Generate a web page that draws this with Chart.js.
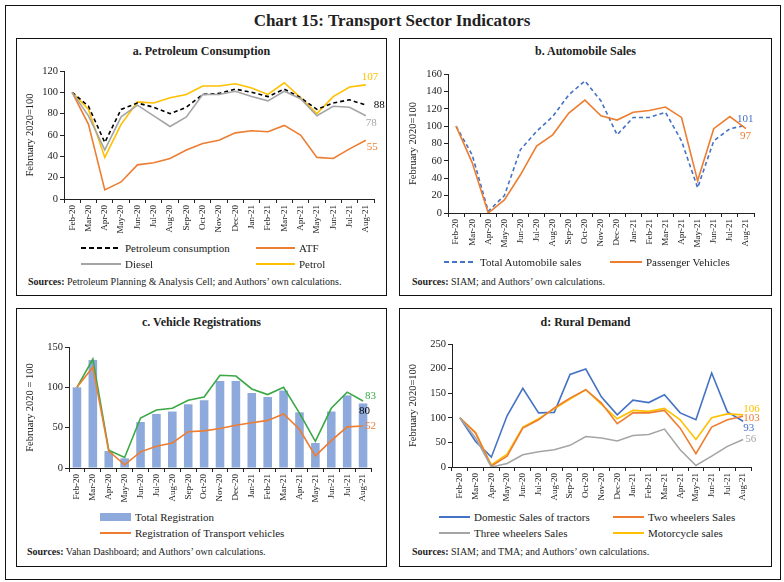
<!DOCTYPE html>
<html>
<head>
<meta charset="utf-8">
<script src="https://cdn.jsdelivr.net/npm/chart.js@4.4.0/dist/chart.umd.min.js"></script>
<style>
  body { margin: 0; width: 784px; height: 582px; background: #fff; font-family: 'Liberation Serif', serif; color: #222; position: relative; overflow: hidden; }
  .box { position: absolute; border: 1.5px solid #111; box-sizing: border-box; }
  .abs { position: absolute; white-space: nowrap; }
  .main-title { left: 0; width: 784px; top: 11px; text-align: center; font-size: 17px; font-weight: bold; }
  .ptitle { font-size: 12px; font-weight: bold; text-align: center; }
  .src { font-size: 10px; }
  .leg { font-size: 11px; display: flex; align-items: center; height: 14px; }
  .leg .mk { display: inline-block; margin-right: 4px; }
  canvas { position: absolute; }
</style>
</head>
<body>
<div class="box" style="left:5px;top:5px;width:776px;height:575px;"></div>
<div class="abs main-title">Chart 15: Transport Sector Indicators</div>

<div class="box" style="left:16px;top:38px;width:371px;height:258px;"></div>
<div class="box" style="left:399px;top:38px;width:373px;height:258px;"></div>
<div class="box" style="left:16px;top:308px;width:371px;height:259px;"></div>
<div class="box" style="left:399px;top:308px;width:373px;height:259px;"></div>

<div class="abs ptitle" style="left:16px;width:371px;top:44px;">a. Petroleum Consumption</div>
<div class="abs ptitle" style="left:399px;width:373px;top:44px;">b. Automobile Sales</div>
<div class="abs ptitle" style="left:16px;width:371px;top:315px;">c. Vehicle Registrations</div>
<div class="abs ptitle" style="left:399px;width:373px;top:315px;">d: Rural Demand</div>

<canvas id="chartA" width="366" height="177" style="left:20px;top:58px;width:366px;height:177px;"></canvas>
<canvas id="chartB" width="367" height="191" style="left:403px;top:58px;width:367px;height:191px;"></canvas>
<canvas id="chartC" width="365" height="170" style="left:20px;top:334px;width:365px;height:170px;"></canvas>
<canvas id="chartD" width="367" height="171" style="left:403px;top:332px;width:367px;height:171px;"></canvas>

<div class="abs src" style="left:28px;top:276px;"><b>Sources:</b> Petroleum Planning &amp; Analysis Cell; and Authors’ own calculations.</div>
<div class="abs src" style="left:412px;top:276px;"><b>Sources:</b> SIAM; and Authors’ own calculations.</div>
<div class="abs src" style="left:27px;top:546px;"><b>Sources:</b> Vahan Dashboard; and Authors’ own calculations.</div>
<div class="abs src" style="left:412px;top:546px;"><b>Sources:</b> SIAM; and TMA; and Authors’ own calculations.</div>

<div id="legends"></div>

<script>
const months = ['Feb-20','Mar-20','Apr-20','May-20','Jun-20','Jul-20','Aug-20','Sep-20','Oct-20','Nov-20',
  'Dec-20','Jan-21','Feb-21','Mar-21','Apr-21','May-21','Jun-21','Jul-21','Aug-21'];

// a. Petroleum consumption
const petroleumConsumption = [100, 87, 53, 84, 90, 86, 80, 86, 98, 99, 103, 100, 96, 103, 95, 84, 90, 93, 88];
const atf = [100, 70, 8.5, 16, 32, 34, 38, 46, 52, 55, 62, 64, 63, 69, 60, 39, 38, 47, 55];
const diesel = [100, 78, 46, 77, 88, 78, 68, 77, 98, 98, 101, 96, 92, 101, 94, 78, 87, 86, 78];
const petrol = [100, 84, 39, 70, 91, 90, 95, 98, 106, 106, 108, 104, 98, 109, 95, 80, 96, 105, 107];

// b. Automobile sales
const totalAutoSales = [100, 67, 2, 20, 73, 94, 111, 136, 152, 129, 90, 110, 110, 116, 83, 29, 83, 97, 101];
const passengerVehicles = [100, 58, 0, 15, 44, 77, 90, 115, 130, 112, 107, 116, 118, 122, 110, 37, 97, 111, 97];

// c. Vehicle registrations
const totalRegistration = [100, 134, 21, 12, 57, 67, 70, 79, 84, 108, 108, 93, 88, 96, 69, 31, 70, 90, 80];
const nonTransportRegistration = [100, 135, 22, 13, 62, 72, 74, 84, 88, 115, 114, 98, 91, 100, 68, 33, 74, 94, 83];
const transportRegistration = [100, 125, 21, 4, 20, 27, 31, 45, 46, 49, 53, 56, 59, 67, 48, 15, 34, 51, 52];

// d. Rural demand
const tractors = [100, 52, 20, 104, 160, 110, 111, 188, 199, 142, 106, 136, 131, 147, 110, 96, 191, 112, 93];
const twoWheelers = [100, 69, 2, 22, 79, 96, 120, 140, 157, 130, 88, 110, 110, 115, 79, 27, 81, 96, 103];
const threeWheelers = [100, 59, 0, 7, 25, 31, 35, 44, 62, 59, 53, 64, 66, 77, 35, 3, 22, 42, 56];
const motorcycles = [100, 70, 4, 26, 81, 98, 118, 138, 157, 127, 98, 115, 113, 119, 96, 56, 100, 108, 106];

const BLUE = '#4472C4', ORANGE = '#ED7D31', GRAY = '#A5A5A5', AMBER = '#FFC000', GREEN = '#3AA845', BAR = '#8EA9DB';

Chart.defaults.font.family = "'Liberation Serif', serif";
Chart.defaults.color = '#222';

const endLabels = {
  id: 'endLabels',
  afterDatasetsDraw(chart) {
    const ctx = chart.ctx;
    ctx.save();
    ctx.font = "11px 'Liberation Serif', serif";
    ctx.textBaseline = 'middle';
    ctx.textAlign = 'left';
    chart.data.datasets.forEach((ds, i) => {
      if (!ds.endLabel) return;
      const pts = chart.getDatasetMeta(i).data;
      const p = pts[pts.length - 1];
      ctx.fillStyle = ds.endLabel.color;
      ctx.fillText(String(ds.data[ds.data.length - 1]), p.x + ds.endLabel.dx, p.y + ds.endLabel.dy);
    });
    ctx.restore();
  }
};

function lineDs(label, data, color, end, dashed) {
  return {
    type: 'line', label, data, borderColor: color, backgroundColor: color,
    borderWidth: 1.6, pointRadius: 0, tension: 0, borderDash: dashed ? [4, 3] : [],
    endLabel: end, order: 0
  };
}

function options(yMax, step, yTitle, yWidth, padTop, padRight, xHeight) {
  return {
    responsive: false,
    animation: false,
    layout: { padding: { top: padTop, right: padRight, left: 0, bottom: 0 } },
    plugins: { legend: { display: false }, tooltip: { enabled: false } },
    scales: {
      x: {
        offset: true,
        grid: { offset: true, drawOnChartArea: false, drawTicks: true, tickLength: 4, color: '#222' },
        border: { color: '#222', width: 1 },
        ticks: { minRotation: 90, maxRotation: 90, padding: 2, font: { size: 9 }, autoSkip: false },
        afterFit: (s) => { s.height = xHeight; }
      },
      y: {
        min: 0, max: yMax,
        grid: { drawOnChartArea: false, drawTicks: true, tickLength: 4, color: '#222' },
        border: { color: '#222', width: 1 },
        ticks: { stepSize: step, padding: 2, font: { size: 10.5 } },
        title: { display: true, text: yTitle, font: { size: 10.5 }, padding: { top: 4, bottom: 0 } },
        afterFit: (s) => { s.width = yWidth; }
      }
    }
  };
}

new Chart(document.getElementById('chartA'), {
  type: 'line',
  data: {
    labels: months,
    datasets: [
      lineDs('Diesel', diesel, GRAY, { color: GRAY, dx: 0, dy: 7 }),
      lineDs('ATF', atf, ORANGE, { color: ORANGE, dx: 1, dy: 7 }),
      lineDs('Petroleum consumption', petroleumConsumption, '#000', { color: '#000', dx: 8, dy: 0 }, true),
      lineDs('Petrol', petrol, AMBER, { color: AMBER, dx: -4, dy: -8 })
    ]
  },
  options: options(120, 20, 'February 2020=100', 44, 13, 12, 36),
  plugins: [endLabels]
});

new Chart(document.getElementById('chartB'), {
  type: 'line',
  data: {
    labels: months,
    datasets: [
      lineDs('Passenger Vehicles', passengerVehicles, ORANGE, { color: ORANGE, dx: -6, dy: 7 }),
      lineDs('Total Automobile sales', totalAutoSales, BLUE, { color: BLUE, dx: -9, dy: -6 }, true)
    ]
  },
  options: options(160, 20, 'February 2020=100', 45, 16, 16, 36),
  plugins: [endLabels]
});

new Chart(document.getElementById('chartC'), {
  type: 'bar',
  data: {
    labels: months,
    datasets: [
      { type: 'bar', label: 'Total Registration', data: totalRegistration, backgroundColor: BAR,
        barPercentage: 0.6, categoryPercentage: 0.9, order: 2, endLabel: { color: '#000', dx: -4, dy: 8 } },
      lineDs('Registration of Transport vehicles', transportRegistration, ORANGE, { color: ORANGE, dx: 2, dy: 0 }),
      lineDs('Registration of Non-transport vehicles', nonTransportRegistration, GREEN, { color: GREEN, dx: 2, dy: -5 })
    ]
  },
  options: options(150, 50, 'February 2020 = 100', 49, 13, 14, 36),
  plugins: [endLabels]
});

new Chart(document.getElementById('chartD'), {
  type: 'line',
  data: {
    labels: months,
    datasets: [
      lineDs('Three wheelers Sales', threeWheelers, GRAY, { color: GRAY, dx: 2, dy: 0 }),
      lineDs('Two wheelers Sales', twoWheelers, ORANGE, { color: ORANGE, dx: 0, dy: 2 }),
      lineDs('Motorcycle sales', motorcycles, AMBER, { color: AMBER, dx: 0, dy: -6 }),
      lineDs('Domestic Sales of tractors', tractors, BLUE, { color: BLUE, dx: 0, dy: 7 })
    ]
  },
  options: options(250, 50, 'February 2020=100', 49, 12, 19, 36),
  plugins: [endLabels]
});

// legends
const legendItems = [
  [81, 248, 40, '#000', 'dash', 'Petroleum consumption'],
  [256, 248, 39, ORANGE, 'line', 'ATF'],
  [81, 264, 40, GRAY, 'line', 'Diesel'],
  [256, 264, 39, AMBER, 'line', 'Petrol'],
  [444, 262, 32, BLUE, 'dash', 'Total Automobile sales'],
  [610, 262, 32, ORANGE, 'line', 'Passenger Vehicles'],
  [100, 517, 31, BAR, 'box', 'Total Registration'],
  [100, 533, 31, ORANGE, 'line', 'Registration of Transport vehicles'],
  [439, 517, 31, BLUE, 'line', 'Domestic Sales of tractors'],
  [613, 517, 31, ORANGE, 'line', 'Two wheelers Sales'],
  [439, 533, 31, GRAY, 'line', 'Three wheelers Sales'],
  [613, 533, 31, AMBER, 'line', 'Motorcycle sales']
];
const legHost = document.getElementById('legends');
legendItems.forEach(([x, y, w, color, kind, text]) => {
  const d = document.createElement('div');
  d.className = 'abs leg';
  d.style.left = x + 'px';
  d.style.top = (y - 7) + 'px';
  let mk;
  if (kind === 'box') {
    mk = `<span class="mk" style="width:${w}px;height:8px;background:${color}"></span>`;
  } else if (kind === 'dash') {
    mk = `<span class="mk" style="width:${w}px;height:2px;background:repeating-linear-gradient(to right, ${color} 0 5px, transparent 5px 8px)"></span>`;
  } else {
    mk = `<span class="mk" style="width:${w}px;height:2px;background:${color}"></span>`;
  }
  d.innerHTML = mk + '<span>' + text + '</span>';
  legHost.appendChild(d);
});
</script>
</body>
</html>
